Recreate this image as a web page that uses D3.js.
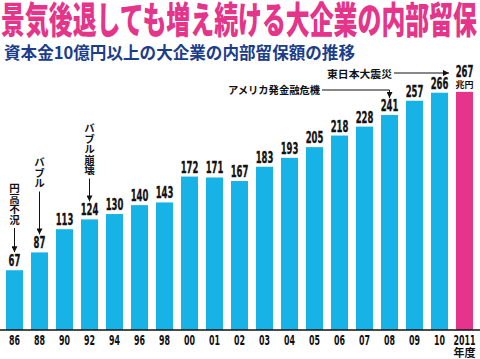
<!DOCTYPE html>
<html lang="ja">
<head>
<meta charset="UTF-8">
<script src="https://cdn.jsdelivr.net/npm/d3@7"></script>
<style>
  body { margin: 0; background: #fff; }
  svg { display: block; }
  .num { font-family: "Liberation Sans Narrow", "DejaVu Sans Condensed", sans-serif; font-weight: bold; }
  .jp { font-family: "Noto Sans CJK JP", sans-serif; }
</style>
</head>
<body>
<div id="chart"></div>
<script>
// data
var years = ["86","88","90","92","94","96","98","00","01","02","03","04","05","06","07","08","09","10","2011"];
var values = [67,87,113,124,130,140,143,172,171,167,183,193,205,218,228,241,257,266,267];
var title = "景気後退しても増え続ける大企業の内部留保";
var subtitle = "資本金10億円以上の大企業の内部留保額の推移";
var unitLabel = "兆円";
var axisLabel = "年度";
// vertical notes above a bar
var vNotes = [
  { year: "86", text: "円高不況" },
  { year: "88", text: "バブル" },
  { year: "92", text: "バブル崩壊" }
];

var W = 480, H = 359;
var baseY = 330;

var svg = d3.select("#chart").append("svg")
  .attr("width", W).attr("height", H);

var x = d3.scaleBand()
  .domain(years)
  .range([6, 473])
  .paddingInner(0.32)
  .paddingOuter(0);

var y = d3.scaleLinear()
  .domain([0, 267])
  .range([baseY, baseY - 267 * 0.892]);

// titles
svg.append("text")
  .attr("class", "jp")
  .attr("x", 1).attr("y", 34)
  .attr("textLength", 476)
  .attr("lengthAdjust", "spacingAndGlyphs")
  .style("font-size", "37px")
  .style("font-weight", 900)
  .style("fill", "#e5358a")
  .text(title);

svg.append("text")
  .attr("class", "jp")
  .attr("x", 4).attr("y", 59)
  .attr("textLength", 351)
  .attr("lengthAdjust", "spacingAndGlyphs")
  .style("font-size", "17px")
  .style("font-weight", 700)
  .style("fill", "#1b3d8a")
  .text(subtitle);

// arrow marker
var defs = svg.append("defs");
defs.append("marker")
  .attr("id", "arr")
  .attr("viewBox", "0 0 10 10")
  .attr("refX", 10).attr("refY", 5)
  .attr("markerWidth", 6).attr("markerHeight", 6)
  .attr("markerUnits", "userSpaceOnUse")
  .attr("orient", "auto")
  .append("path").attr("d", "M0,0L10,5L0,10Z").attr("fill", "#111");

// bars
svg.append("g").selectAll("rect")
  .data(values)
  .enter().append("rect")
  .attr("x", function(d, i) { return x(years[i]); })
  .attr("y", function(d) { return y(d); })
  .attr("width", x.bandwidth())
  .attr("height", function(d) { return baseY - y(d); })
  .attr("fill", function(d, i) { return i == years.length - 1 ? "#e5358a" : "#17b3e6"; });

// value labels (narrow digits)
svg.append("g").selectAll("text")
  .data(values)
  .enter().append("text")
  .attr("class", "num")
  .attr("x", function(d, i) { return x(years[i]) + x.bandwidth() / 2; })
  .attr("y", function(d, i) { return i == years.length - 1 ? y(d) - 15 : y(d) - 4; })
  .attr("text-anchor", "middle")
  .attr("textLength", function(d) { return String(d).length * 5.9; })
  .attr("lengthAdjust", "spacingAndGlyphs")
  .style("font-size", "15px")
  .style("fill", "#111")
  .style("stroke", "#111")
  .style("stroke-width", 0.3)
  .text(function(d) { return d; });

var last = years[years.length - 1];
svg.append("text")
  .attr("class", "jp")
  .attr("x", x(last) + x.bandwidth() / 2)
  .attr("y", y(values[values.length - 1]) - 4)
  .attr("text-anchor", "middle")
  .style("font-size", "9px")
  .style("font-weight", 700)
  .style("fill", "#111")
  .text(unitLabel);

// axis
var xAxis = svg.append("g")
  .attr("transform", "translate(0," + baseY + ")")
  .call(d3.axisBottom(x).tickSize(0).tickPadding(5));
xAxis.select(".domain").remove();
xAxis.selectAll("text")
  .attr("class", "num")
  .attr("textLength", function(d) { return d.length * 5.5; })
  .attr("lengthAdjust", "spacingAndGlyphs")
  .style("font-size", "14px")
  .style("fill", "#111");
svg.append("line")
  .attr("x1", 0).attr("x2", W)
  .attr("y1", baseY).attr("y2", baseY)
  .attr("stroke", "#111").attr("stroke-width", 1.5);

svg.append("text")
  .attr("class", "jp")
  .attr("x", x(last) + x.bandwidth() / 2)
  .attr("y", 357)
  .attr("text-anchor", "middle")
  .style("font-size", "11px")
  .style("font-weight", 700)
  .style("fill", "#111")
  .text(axisLabel);

// vertical notes with down arrows
var noteTop = { "86": 183, "88": 157, "92": 123 };
vNotes.forEach(function(n) {
  var cx = x(n.year) + x.bandwidth() / 2;
  var len = Array.from(n.text).length;
  var top = noteTop[n.year];
  var step = 10.5;
  svg.append("text")
    .attr("class", "jp")
    .attr("x", cx)
    .attr("y", top)
    .attr("textLength", step * len)
    .attr("lengthAdjust", "spacingAndGlyphs")
    .style("writing-mode", "vertical-rl")
    .style("font-size", "10.5px")
    .style("font-weight", 700)
    .style("fill", "#111")
    .text(n.text);
  var v = values[years.indexOf(n.year)];
  svg.append("line")
    .attr("x1", cx).attr("x2", cx)
    .attr("y1", top + step * len + 3)
    .attr("y2", y(v) - 18)
    .attr("stroke", "#111").attr("stroke-width", 1)
    .attr("marker-end", "url(#arr)");
});

// アメリカ発金融危機 -> 08
var c08 = x("08") + x.bandwidth() / 2;
svg.append("text")
  .attr("class", "jp")
  .attr("x", 228).attr("y", 94)
  .attr("textLength", 92)
  .attr("lengthAdjust", "spacingAndGlyphs")
  .style("font-size", "10.5px")
  .style("font-weight", 700)
  .style("fill", "#111")
  .text("アメリカ発金融危機");
svg.append("path")
  .attr("d", "M322,90H" + c08 + "V" + (y(241) - 17))
  .attr("fill", "none")
  .attr("stroke", "#111").attr("stroke-width", 1)
  .attr("marker-end", "url(#arr)");

// 東日本大震災 -> 2011
svg.append("text")
  .attr("class", "jp")
  .attr("x", 327).attr("y", 78)
  .attr("textLength", 65)
  .attr("lengthAdjust", "spacingAndGlyphs")
  .style("font-size", "10.5px")
  .style("font-weight", 700)
  .style("fill", "#111")
  .text("東日本大震災");
svg.append("line")
  .attr("x1", 394).attr("x2", 449)
  .attr("y1", 73).attr("y2", 73)
  .attr("stroke", "#111").attr("stroke-width", 1)
  .attr("marker-end", "url(#arr)");
</script>
</body>
</html>
